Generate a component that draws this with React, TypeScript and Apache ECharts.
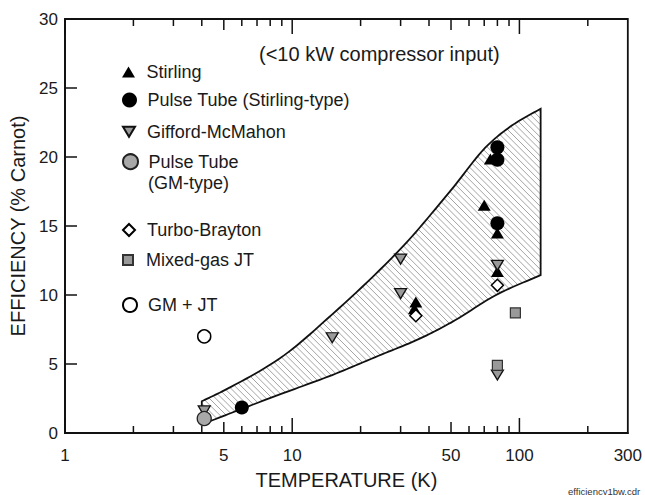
import React, { useEffect, useRef } from "react";
import * as echarts from "echarts";

const FONT = '"Liberation Sans", Arial, Helvetica, sans-serif';

// ---- data (temperature K, efficiency % Carnot) ----
const stirlingT = [70, 74.5, 80, 80, 35, 34.5];
const stirlingE = [16.5, 19.85, 14.5, 11.7, 9.5, 9.0];
const pulseStirT = [6, 80, 80, 80];
const pulseStirE = [1.85, 20.7, 19.8, 15.2];
const gmT = [4.1, 15, 30, 30, 80, 80];
const gmE = [1.6, 6.9, 12.6, 10.1, 12.15, 4.2];
const pulseGmT = [4.1];
const pulseGmE = [1.05];
const turboT = [35, 80];
const turboE = [8.5, 10.7];
const mixedT = [96, 80];
const mixedE = [8.7, 4.9];
const gmjtT = [4.1];
const gmjtE = [7.0];

// hatched band boundaries
const bandUpperT = [4, 4.9, 8.8, 15, 31, 50, 73, 95, 124];
const bandUpperE = [2.3, 3.0, 5.4, 8.6, 13.6, 17.6, 20.9, 22.4, 23.5];
const bandLowerT = [4, 6, 9, 15, 24, 36, 50, 81, 124];
const bandLowerE = [0.62, 1.75, 2.85, 4.2, 5.6, 6.8, 8.0, 10.1, 11.44];

// axes
const xMin = 1;
const xMax = 300;
const yMin = 0;
const yMax = 30;
const yStep = 5;
const xTickLabels = [1, 5, 10, 50, 100, 300];
const xMajorTicks = [1, 10, 100];
const xMidTicks = [5, 50];
const xMinorTicks = [2, 3, 4, 6, 7, 8, 9, 20, 30, 40, 60, 70, 80, 90, 200];

const seriesNames = [
  "Stirling",
  "Pulse Tube (Stirling-type)",
  "Gifford-McMahon",
  "Pulse Tube (GM-type)",
  "Turbo-Brayton",
  "Mixed-gas JT",
  "GM + JT",
];

const TRI_UP = "path://M6.5,0L13,11L0,11Z";
const TRI_DOWN = "path://M0,0L12,0L6,10Z";
const DIAMOND = "path://M6,0L12,6L6,12L0,6Z";
const SQUARE = "path://M0,0L10,0L10,10L0,10Z";

// monotone cubic (Fritsch-Butland) through pixel points sorted by x
function monotone(pts: number[][]): number[][] {
  const n = pts.length;
  const dx: number[] = [];
  const m: number[] = [];
  for (let i = 0; i < n - 1; i++) {
    dx[i] = pts[i + 1][0] - pts[i][0];
    m[i] = (pts[i + 1][1] - pts[i][1]) / dx[i];
  }
  const t: number[] = new Array(n);
  t[0] = m[0];
  t[n - 1] = m[n - 2];
  for (let i = 1; i < n - 1; i++) {
    if (m[i - 1] * m[i] <= 0) t[i] = 0;
    else
      t[i] =
        (3 * (dx[i - 1] + dx[i])) /
        ((2 * dx[i] + dx[i - 1]) / m[i - 1] + (dx[i] + 2 * dx[i - 1]) / m[i]);
  }
  const out: number[][] = [];
  for (let i = 0; i < n - 1; i++) {
    const h = dx[i];
    const y0 = pts[i][1];
    const y1 = pts[i + 1][1];
    for (let s = 0; s < 12; s++) {
      const u = s / 12;
      const u2 = u * u;
      const u3 = u2 * u;
      const h00 = 2 * u3 - 3 * u2 + 1;
      const h10 = u3 - 2 * u2 + u;
      const h01 = -2 * u3 + 3 * u2;
      const h11 = u3 - u2;
      out.push([pts[i][0] + u * h, h00 * y0 + h10 * h * t[i] + h01 * y1 + h11 * h * t[i + 1]]);
    }
  }
  out.push(pts[n - 1]);
  return out;
}

export default function App() {
  const ref = useRef<HTMLDivElement>(null);

  useEffect(() => {
    const chart = echarts.init(ref.current!, null, { renderer: "svg" });
    const pts = (xs: number[], ys: number[]) => xs.map((x, i) => [x, ys[i]]);

    const scatter = (
      name: string,
      data: number[][],
      symbol: string,
      size: any,
      fill: string,
      border: string,
      bw: number
    ) => ({
      type: "scatter",
      name,
      data,
      symbol,
      symbolSize: size,
      z: 5,
      itemStyle: { color: fill, borderColor: border, borderWidth: bw, opacity: 1 },
      emphasis: { disabled: true },
    });

    const legendCenters = [72, 100, 131.7, 161.7, 230, 260, 305];
    const legendIconH = [11, 15, 10, 15, 12, 10, 14];
    const legendLeft = 122;

    const option: any = {
      animation: false,
      textStyle: { fontFamily: FONT },
      title: {
        text: "(<10 kW compressor input)",
        left: 259,
        top: 44,
        padding: 0,
        textStyle: { fontSize: 20, fontWeight: "normal", color: "#1a1a1a", fontFamily: FONT },
      },
      grid: {
        left: 65,
        right: 15,
        top: 19,
        bottom: 54,
        show: true,
        borderColor: "#111",
        borderWidth: 1.8,
        backgroundColor: "transparent",
      },
      xAxis: {
        type: "log",
        logBase: 10,
        min: xMin,
        max: xMax,
        axisLine: { show: true, onZero: false, lineStyle: { color: "#111", width: 1.8 } },
        axisTick: { show: false },
        minorTick: { show: false },
        splitLine: { show: false },
        axisLabel: {
          customValues: xTickLabels,
          fontSize: 17,
          color: "#1a1a1a",
          margin: 14,
          fontFamily: FONT,
        },
        name: "TEMPERATURE (K)",
        nameLocation: "middle",
        nameGap: 37,
        nameTextStyle: { fontSize: 20, color: "#1a1a1a", fontFamily: FONT },
      },
      yAxis: {
        type: "value",
        min: yMin,
        max: yMax,
        interval: yStep,
        axisLine: { show: true, onZero: false, lineStyle: { color: "#111", width: 1.8 } },
        axisTick: { show: true, inside: true, length: 12, lineStyle: { color: "#111", width: 1.5 } },
        splitLine: { show: false },
        axisLabel: { fontSize: 17, color: "#1a1a1a", margin: 7, fontFamily: FONT },
        name: "EFFICIENCY (% Carnot)",
        nameLocation: "middle",
        nameRotate: 90,
        nameGap: 30,
        nameTextStyle: { fontSize: 20, color: "#1a1a1a", fontFamily: FONT },
      },
      legend: seriesNames.map((n, i) => ({
        data: [n],
        left: legendLeft,
        top: legendCenters[i] - 10,
        padding: 0,
        itemWidth: 26,
        itemHeight: legendIconH[i],
        selectedMode: false,
        formatter: i === 3 ? "Pulse Tube" : "{name}",
        textStyle: { fontSize: 18, fontFamily: FONT, color: "#1a1a1a", lineHeight: 20 },
      })),
      graphic: [
        {
          type: "text",
          x: legendLeft + 26,
          y: legendCenters[3] + 21,
          style: {
            text: "(GM-type)",
            fontSize: 18,
            fill: "#1a1a1a",
            fontFamily: FONT,
            verticalAlign: "middle",
          },
        },
        {
          type: "text",
          left: 568,
          top: 486,
          style: { text: "efficiency1bw.cdr", fontSize: 9.5, fill: "#333", fontFamily: FONT },
        },
      ],
      series: [
        {
          type: "custom",
          name: "band",
          silent: true,
          z: 2,
          clip: false,
          data: [[bandUpperT[0], bandUpperE[0]]],
          renderItem: (_params: any, api: any) => {
            const up = monotone(bandUpperT.map((t, i) => api.coord([t, bandUpperE[i]])));
            const lo = monotone(bandLowerT.map((t, i) => api.coord([t, bandLowerE[i]])));
            const poly = [...up, ...lo.slice().reverse()];
            const cs = poly.map((p) => p[1] - p[0]);
            const cmin = Math.min(...cs);
            const cmax = Math.max(...cs);
            const step = 6.3;
            const children: any[] = [];
            for (let c = Math.ceil(cmin / step) * step; c <= cmax; c += step) {
              const xs: number[] = [];
              for (let i = 0; i < poly.length; i++) {
                const a = poly[i];
                const b = poly[(i + 1) % poly.length];
                const fa = a[1] - a[0] - c;
                const fb = b[1] - b[0] - c;
                if (fa < 0 !== fb < 0) {
                  const t = fa / (fa - fb);
                  xs.push(a[0] + t * (b[0] - a[0]));
                }
              }
              xs.sort((m, n) => m - n);
              for (let k = 0; k + 1 < xs.length; k += 2) {
                children.push({
                  type: "line",
                  shape: { x1: xs[k], y1: xs[k] + c, x2: xs[k + 1], y2: xs[k + 1] + c },
                  style: { stroke: "#8c8c8c", lineWidth: 0.8 },
                });
              }
            }
            children.push({
              type: "polygon",
              shape: { points: poly },
              style: { stroke: "#111", lineWidth: 1.8, fill: "none" },
            });
            return { type: "group", children };
          },
        },
        {
          type: "custom",
          name: "ticks",
          silent: true,
          z: 6,
          clip: false,
          encode: { x: 0, y: 1 },
          data: [
            ...xMajorTicks.map((v) => [v, yMin, 0]),
            ...xMidTicks.map((v) => [v, yMin, 1]),
            ...xMinorTicks.map((v) => [v, yMin, 2]),
          ],
          renderItem: (_params: any, api: any) => {
            const v = api.value(0);
            const k = api.value(2);
            const len = [15, 11, 7][k];
            const b = api.coord([v, yMin]);
            const t = api.coord([v, yMax]);
            return {
              type: "group",
              children: [
                {
                  type: "line",
                  shape: { x1: b[0], y1: b[1], x2: b[0], y2: b[1] - len },
                  style: { stroke: "#111", lineWidth: 1.5 },
                },
                {
                  type: "line",
                  shape: { x1: t[0], y1: t[1], x2: t[0], y2: t[1] + len },
                  style: { stroke: "#111", lineWidth: 1.5 },
                },
              ],
            };
          },
        },
        scatter(seriesNames[0], pts(stirlingT, stirlingE), TRI_UP, [13, 11], "#000", "#000", 0),
        scatter(seriesNames[1], pts(pulseStirT, pulseStirE), "circle", 14, "#000", "#000", 0),
        scatter(seriesNames[2], pts(gmT, gmE), TRI_DOWN, [12, 10], "#9a9a9a", "#111", 1.3),
        scatter(seriesNames[3], pts(pulseGmT, pulseGmE), "circle", 14, "#a8a8a8", "#222", 1.3),
        scatter(seriesNames[4], pts(turboT, turboE), DIAMOND, 12, "#fff", "#000", 1.5),
        scatter(seriesNames[5], pts(mixedT, mixedE), SQUARE, 10, "#999", "#333", 1.2),
        scatter(seriesNames[6], pts(gmjtT, gmjtE), "circle", 13, "#fff", "#000", 1.5),
      ],
    };

    chart.setOption(option);
    return () => chart.dispose();
  }, []);

  return (
    <div
      ref={ref}
      style={{ position: "fixed", left: 0, top: 0, width: 645, height: 495, background: "#fff" }}
    />
  );
}
